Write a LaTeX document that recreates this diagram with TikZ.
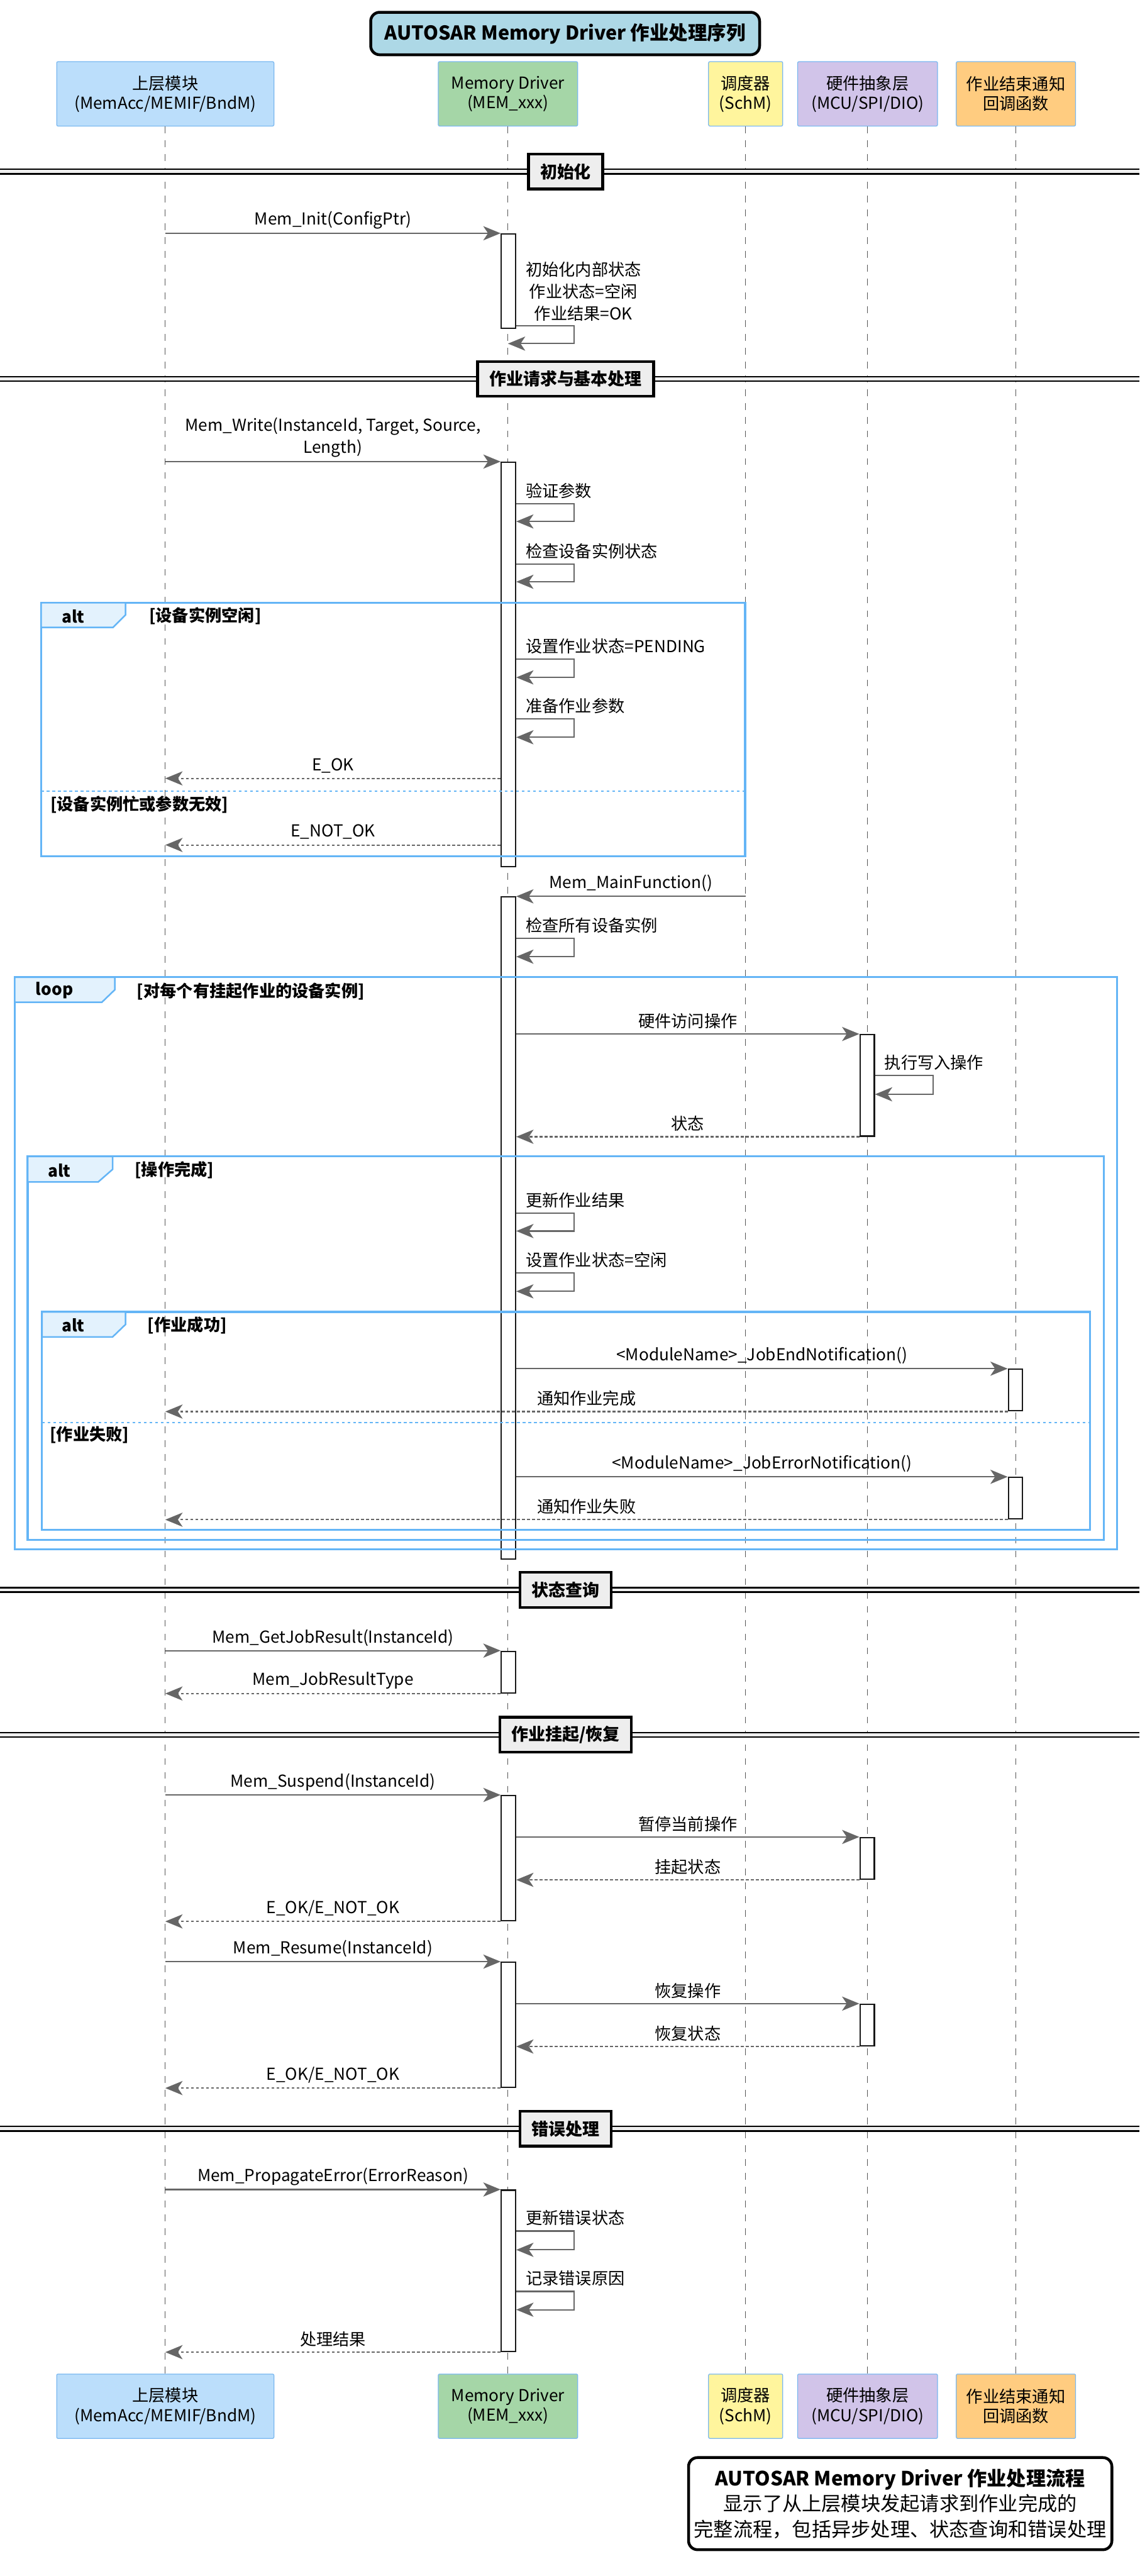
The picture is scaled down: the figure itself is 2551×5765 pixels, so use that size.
\documentclass[tikz,border=0pt]{standalone}
\usepackage{fontspec}
\setmainfont{Noto Sans CJK SC}
\usetikzlibrary{arrows.meta}
\definecolor{msggray}{HTML}{666666}
\definecolor{lifegray}{HTML}{555555}
\definecolor{frameblue}{HTML}{64B5F6}
\definecolor{tabblue}{HTML}{E3F2FD}
\definecolor{divgray}{HTML}{EEEEEE}
\definecolor{titleblue}{HTML}{ADD8E6}
\definecolor{cU}{HTML}{BBDEFB}
\definecolor{cM}{HTML}{A5D6A7}
\definecolor{cS}{HTML}{FFF59D}
\definecolor{cH}{HTML}{D1C4E9}
\definecolor{cC}{HTML}{FFCC80}
\definecolor{pborder}{HTML}{7AB8F0}
\newcommand\actbar[4]{\node[abar, minimum height={(#4-#3)*0.01cm}, anchor=north] (#1) at (#2,#3) {};}
\newcommand\secdiv[3]{%
  \fill[divgray] (0,#2-6) rectangle (2551,#2+6);
  \draw[line width=0.9pt] (0,#2-5) -- (2551,#2-5) (0,#2+5) -- (2551,#2+5);
  \node[divbox] (#1) at (1266,#2) {#3};}
\tikzset{
  lifeln/.style={draw=lifegray, line width=0.45pt, dash pattern=on 4.3pt off 4.5pt},
  msg/.style={draw=msggray, line width=0.85pt, -{Stealth[length=11pt,width=9pt,inset=3pt]}},
  rmsg/.style={msg, dash pattern=on 1.9pt off 1.3pt},
  abar/.style={draw=black!90, fill=white, line width=0.85pt, minimum width=0.32cm, inner sep=0pt},
  pbox/.style={draw=pborder, line width=0.5pt, rounded corners=0.03cm, minimum height=1.44cm, align=center, font=\fontsize{10.5}{12.5}\selectfont, inner sep=0pt},
  lab/.style={font=\fontsize{10.5}{14.2}\selectfont, text=black, inner sep=0pt, yshift=0.29cm, align=center},
  labtwo/.style={font=\fontsize{10.5}{14.2}\selectfont, text=black, inner sep=0pt, yshift=0.54cm, align=center},
  slab/.style={font=\fontsize{10.5}{14}\selectfont, text=black, anchor=west, inner sep=0pt, xshift=0.2cm, yshift=0.29cm},
  frm/.style={draw=frameblue, line width=1.3pt},
  ftab/.style={draw=frameblue, fill=tabblue, line width=1.0pt},
  elsel/.style={draw=frameblue, line width=0.85pt, dash pattern=on 1.7pt off 1.9pt},
  flab/.style={font=\fontsize{10.5}{14}\selectfont\bfseries, inner sep=0pt},
  divbox/.style={draw=black, fill=divgray, line width=1.7pt, minimum height=0.78cm, inner xsep=0.26cm, font=\fontsize{10.8}{13}\selectfont\bfseries},
  titlebox/.style={draw=black, fill=titleblue, line width=1.8pt, rounded corners=0.2cm, minimum width=8.7cm, minimum height=0.95cm, font=\fontsize{12.2}{14}\selectfont\bfseries},
  notebox/.style={draw=black, fill=white, line width=1.8pt, rounded corners=0.2cm, minimum width=9.47cm, minimum height=2.06cm, align=center, font=\fontsize{12.5}{16.2}\selectfont, inner xsep=0pt}
}
\begin{document}
\begin{tikzpicture}[x=0.01cm, y=-0.01cm]
\useasboundingbox (0,0) rectangle (2551,5765);
\fill[white] (0,0) rectangle (2551,5765);

% title
\node[titlebox] (title) at (1265,75) {AUTOSAR Memory Driver 作业处理序列};

% participants
\node[pbox, fill=cU, minimum width=4.86cm] (u) at (370,210) {上层模块\\(MemAcc/MEMIF/BndM)};
\node[pbox, fill=cM, minimum width=3.12cm] (m) at (1137,210) {Memory Driver\\(MEM\_xxx)};
\node[pbox, fill=cS, minimum width=1.66cm] (s) at (1669,210) {调度器\\(SchM)};
\node[pbox, fill=cH, minimum width=3.13cm] (h) at (1942,210) {硬件抽象层\\(MCU/SPI/DIO)};
\node[pbox, fill=cC, minimum width=2.67cm] (c) at (2274,210) {作业结束通知\\回调函数};
\node[pbox, fill=cU, minimum width=4.86cm] (u2) at (370,5385) {上层模块\\(MemAcc/MEMIF/BndM)};
\node[pbox, fill=cM, minimum width=3.12cm] (m2) at (1137,5385) {Memory Driver\\(MEM\_xxx)};
\node[pbox, fill=cS, minimum width=1.66cm] (s2) at (1669,5385) {调度器\\(SchM)};
\node[pbox, fill=cH, minimum width=3.13cm] (h2) at (1942,5385) {硬件抽象层\\(MCU/SPI/DIO)};
\node[pbox, fill=cC, minimum width=2.67cm] (c2) at (2274,5385) {作业结束通知\\回调函数};

% lifelines
\foreach \p in {u,m,s,h,c} \draw[lifeln] (\p.south) -- (\p2.north);

% section dividers
\secdiv{d1}{384}{初始化}
\secdiv{d2}{848}{作业请求与基本处理}
\secdiv{d3}{3558}{状态查询}
\secdiv{d4}{3882}{作业挂起/恢复}
\secdiv{d5}{4764}{错误处理}

% activation bars
\actbar{A1}{1138}{522}{733}
\actbar{A2}{1138}{1033}{1938}
\actbar{A3}{1138}{2006}{3488}
\actbar{A4}{1138}{3694}{3787}
\actbar{A5}{1138}{4017}{4297}
\actbar{A6}{1138}{4390}{4670}
\actbar{A7}{1138}{4900}{5261}
\actbar{B1}{1941}{2314}{2541}
\actbar{B2}{1941}{4111}{4204}
\actbar{B3}{1941}{4484}{4577}
\actbar{C1}{2273}{3063}{3156}
\actbar{C2}{2273}{3305}{3398}

% frames
\draw[frm] (92,1349) rectangle (1668,1916);
\filldraw[ftab] (92,1349) -- (281,1349) -- (281,1376) -- (253,1404) -- (92,1404) -- cycle;
\node[flab] (f1a) at (164,1379) {alt};
\node[flab, anchor=west] (f1b) at (333,1379) {[设备实例空闲]};
\draw[elsel] (92,1771) -- (1668,1771);
\node[flab, anchor=west] (f1c) at (112,1800) {[设备实例忙或参数无效]};

\draw[frm] (33,2187) rectangle (2500,3467);
\filldraw[ftab] (33,2187) -- (257,2187) -- (257,2215) -- (228,2243) -- (33,2243) -- cycle;
\node[flab] (f2a) at (122,2216) {loop};
\node[flab, anchor=west] (f2b) at (306,2218) {[对每个有挂起作业的设备实例]};

\draw[frm] (62,2588) rectangle (2471,3446);
\filldraw[ftab] (62,2588) -- (252,2588) -- (252,2617) -- (220,2645) -- (62,2645) -- cycle;
\node[flab] (f3a) at (133,2619) {alt};
\node[flab, anchor=west] (f3b) at (301,2619) {[操作完成]};

\draw[frm] (94,2936) rectangle (2440,3424);
\filldraw[ftab] (94,2936) -- (281,2936) -- (281,2964) -- (252,2992) -- (94,2992) -- cycle;
\node[flab] (f4a) at (164,2966) {alt};
\node[flab, anchor=west] (f4b) at (330,2966) {[作业成功]};
\draw[elsel] (94,3184) -- (2440,3184);
\node[flab, anchor=west] (f4c) at (111,3211) {[作业失败]};

% y references
\coordinate (y1s) at (0,729);
\coordinate (y1e) at (0,769);
\coordinate (y3) at (0,1127);
\coordinate (y4) at (0,1262);
\coordinate (y5) at (0,1475);
\coordinate (y6) at (0,1609);
\coordinate (y7) at (0,1742);
\coordinate (y8) at (0,1891);
\coordinate (y10) at (0,2100);
\coordinate (y12) at (0,2407);
\coordinate (y14) at (0,2715);
\coordinate (y15) at (0,2849);
\coordinate (y34) at (0,4993);
\coordinate (y35) at (0,5128);

% messages: init
\draw[msg] (u |- A1.north) -- node[lab] {Mem\_Init(ConfigPtr)} (A1.north west);
\draw[msg] (A1.east |- y1s) -- ++(130,0) |- (m |- y1e);
\node[font=\fontsize{10.5}{14}\selectfont, align=center, inner sep=0pt] (n1) at (1306,652) {初始化内部状态\\作业状态=空闲\\作业结果=OK};

% job request
\draw[msg] (u |- A2.north) -- node[labtwo] {Mem\_Write(InstanceId, Target, Source,\\Length)} (A2.north west);
\draw[msg] (A2.east |- y3) node[slab] {验证参数} -- ++(130,0) |- ++(-130,40);
\draw[msg] (A2.east |- y4) node[slab] {检查设备实例状态} -- ++(130,0) |- ++(-130,40);
\draw[msg] (A2.east |- y5) node[slab] {设置作业状态=PENDING} -- ++(130,0) |- ++(-130,41);
\draw[msg] (A2.east |- y6) node[slab] {准备作业参数} -- ++(130,0) |- ++(-130,41);
\draw[rmsg] (A2.west |- y7) -- node[lab] {E\_OK} (u |- y7);
\draw[rmsg] (A2.west |- y8) -- node[lab] {E\_NOT\_OK} (u |- y8);

% main function
\draw[msg] (s |- A3.north) -- node[lab] {Mem\_MainFunction()} (A3.north east);
\draw[msg] (A3.east |- y10) node[slab] {检查所有设备实例} -- ++(130,0) |- ++(-130,41);
\draw[msg] (A3.east |- B1.north) -- node[lab] {硬件访问操作} (B1.north west);
\draw[msg] (B1.east |- y12) node[slab] {执行写入操作} -- ++(130,0) |- ++(-130,42);
\draw[rmsg] (B1.south west) -- node[lab] {状态} (A3.east |- B1.south);
\draw[msg] (A3.east |- y14) node[slab] {更新作业结果} -- ++(130,0) |- ++(-130,40);
\draw[msg] (A3.east |- y15) node[slab] {设置作业状态=空闲} -- ++(130,0) |- ++(-130,41);
\draw[msg] (A3.east |- C1.north) -- node[lab] {<ModuleName>\_JobEndNotification()} (C1.north west);
\draw[rmsg] (C1.south west) -- node[lab] {通知作业完成} (u |- C1.south);
\draw[msg] (A3.east |- C2.north) -- node[lab] {<ModuleName>\_JobErrorNotification()} (C2.north west);
\draw[rmsg] (C2.south west) -- node[lab] {通知作业失败} (u |- C2.south);

% status query
\draw[msg] (u |- A4.north) -- node[lab] {Mem\_GetJobResult(InstanceId)} (A4.north west);
\draw[rmsg] (A4.south west) -- node[lab] {Mem\_JobResultType} (u |- A4.south);

% suspend / resume
\draw[msg] (u |- A5.north) -- node[lab] {Mem\_Suspend(InstanceId)} (A5.north west);
\draw[msg] (A5.east |- B2.north) -- node[lab] {暂停当前操作} (B2.north west);
\draw[rmsg] (B2.south west) -- node[lab] {挂起状态} (A5.east |- B2.south);
\draw[rmsg] (A5.south west) -- node[lab] {E\_OK/E\_NOT\_OK} (u |- A5.south);
\draw[msg] (u |- A6.north) -- node[lab] {Mem\_Resume(InstanceId)} (A6.north west);
\draw[msg] (A6.east |- B3.north) -- node[lab] {恢复操作} (B3.north west);
\draw[rmsg] (B3.south west) -- node[lab] {恢复状态} (A6.east |- B3.south);
\draw[rmsg] (A6.south west) -- node[lab] {E\_OK/E\_NOT\_OK} (u |- A6.south);

% error handling
\draw[msg] (u |- A7.north) -- node[lab] {Mem\_PropagateError(ErrorReason)} (A7.north west);
\draw[msg] (A7.east |- y34) node[slab] {更新错误状态} -- ++(130,0) |- ++(-130,42);
\draw[msg] (A7.east |- y35) node[slab] {记录错误原因} -- ++(130,0) |- ++(-130,41);
\draw[rmsg] (A7.south west) -- node[lab] {处理结果} (u |- A7.south);

% note
\node[notebox] (note) at (2015,5603) {\textbf{AUTOSAR Memory Driver 作业处理流程}\\显示了从上层模块发起请求到作业完成的\\完整流程，包括异步处理、状态查询和错误处理};
\end{tikzpicture}
\end{document}
